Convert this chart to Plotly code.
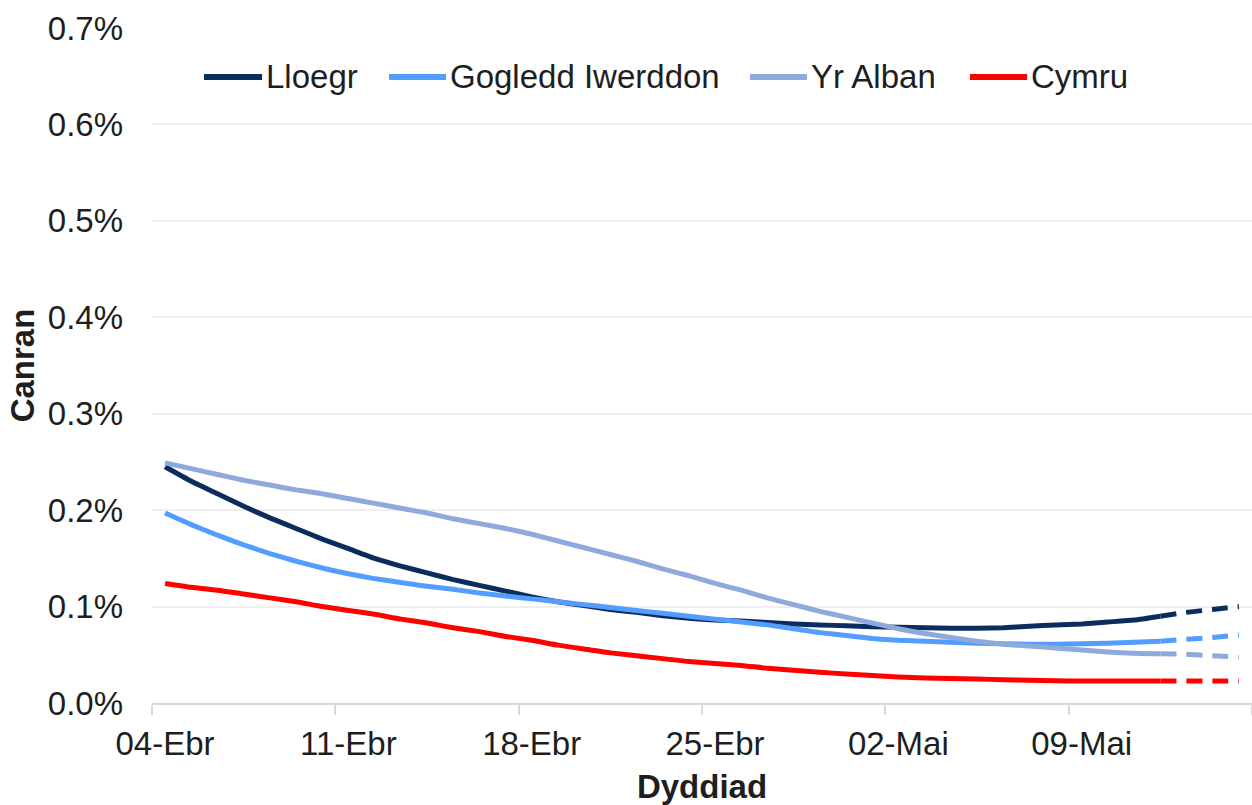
import pandas as pd
import plotly.graph_objects as go

# ---- data (daily, 04 Apr 2021 .. 15 May 2021), values in percent ----
start_date = "2021-04-04"
n_days = 42
solid_last = 38  # last index drawn solid; the rest is dashed

lloegr = [0.245, 0.230, 0.217, 0.204, 0.192, 0.181, 0.170, 0.160, 0.150, 0.142,
          0.135, 0.128, 0.122, 0.116, 0.110, 0.105, 0.101, 0.097, 0.094, 0.0905,
          0.088, 0.086, 0.085, 0.0835, 0.082, 0.081, 0.080, 0.079, 0.0785, 0.078,
          0.0775, 0.0775, 0.078, 0.0795, 0.081, 0.082, 0.084, 0.086, 0.090, 0.094,
          0.097, 0.100]
gogledd_iwerddon = [0.197, 0.185, 0.174, 0.164, 0.155, 0.147, 0.140, 0.134, 0.129, 0.125,
                    0.121, 0.118, 0.114, 0.111, 0.108, 0.105, 0.102, 0.099, 0.096, 0.093,
                    0.090, 0.087, 0.084, 0.081, 0.077, 0.073, 0.070, 0.067, 0.065, 0.064,
                    0.063, 0.062, 0.0615, 0.061, 0.061, 0.0615, 0.062, 0.063, 0.064, 0.066,
                    0.068, 0.0705]
yr_alban = [0.249, 0.243, 0.237, 0.231, 0.226, 0.221, 0.217, 0.212, 0.207, 0.202,
            0.197, 0.191, 0.186, 0.181, 0.175, 0.168, 0.161, 0.154, 0.147, 0.139,
            0.132, 0.124, 0.117, 0.109, 0.102, 0.095, 0.089, 0.083, 0.077, 0.072,
            0.068, 0.064, 0.061, 0.059, 0.057, 0.055, 0.053, 0.0515, 0.051, 0.0505,
            0.049, 0.0475]
cymru = [0.124, 0.120, 0.117, 0.113, 0.109, 0.105, 0.100, 0.096, 0.092, 0.087,
         0.083, 0.078, 0.074, 0.069, 0.065, 0.060, 0.056, 0.052, 0.049, 0.046,
         0.043, 0.041, 0.039, 0.036, 0.034, 0.032, 0.030, 0.0285, 0.027, 0.026,
         0.0255, 0.025, 0.024, 0.0235, 0.023, 0.0228, 0.0228, 0.0228, 0.0228, 0.0228,
         0.0228, 0.0228]

series_names = ["Lloegr", "Gogledd Iwerddon", "Yr Alban", "Cymru"]
series_colors = ["#0B2D5E", "#529DFF", "#8EA9DB", "#FF0000"]

tick_dates = ["2021-04-04", "2021-04-11", "2021-04-18", "2021-04-25",
              "2021-05-02", "2021-05-09", "2021-05-16"]
tick_labels = ["04-Ebr", "11-Ebr", "18-Ebr", "25-Ebr", "02-Mai", "09-Mai", ""]
y_ticks = [0.0, 0.1, 0.2, 0.3, 0.4, 0.5, 0.6, 0.7]
y_tick_labels = ["0.0%", "0.1%", "0.2%", "0.3%", "0.4%", "0.5%", "0.6%", "0.7%"]

# each daily point sits in the middle of its day
dates = pd.date_range(start_date, periods=n_days, freq="D") + pd.Timedelta(hours=12)

W, H = 1252, 805
ML, MR, MT, MB = 152, 0, 28, 102
FONT = "Liberation Sans, Arial, sans-serif"
FS = 33
TXT = "#1e1e1e"

fig = go.Figure()
for name, color, vals in zip(series_names, series_colors,
                             [lloegr, gogledd_iwerddon, yr_alban, cymru]):
    fig.add_trace(go.Scatter(
        x=dates[:solid_last + 1], y=vals[:solid_last + 1], mode="lines", name=name,
        line=dict(color=color, width=5, shape="spline", smoothing=0.5),
        hoverinfo="skip", showlegend=False))
    fig.add_trace(go.Scatter(
        x=dates[solid_last:], y=vals[solid_last:], mode="lines", name=name,
        line=dict(color=color, width=5, dash="16px,10px", shape="spline", smoothing=0.5),
        hoverinfo="skip", showlegend=False))

# ---- legend drawn as line samples + labels (pixel layout converted to paper coords) ----
def px_x(px):
    return (px - ML) / (W - ML - MR)

def px_y(py):
    return (H - MB - py) / (H - MT - MB)

legend_sample_px = [(204, 262), (389, 446), (750, 807), (970, 1027)]
legend_y_px = 77
shapes, annotations = [], []
for name, color, (x0, x1) in zip(series_names, series_colors, legend_sample_px):
    shapes.append(dict(type="line", xref="paper", yref="paper",
                       x0=px_x(x0), x1=px_x(x1), y0=px_y(legend_y_px), y1=px_y(legend_y_px),
                       line=dict(color=color, width=6)))
    annotations.append(dict(xref="paper", yref="paper", x=px_x(x1 + 2), y=px_y(legend_y_px),
                            xanchor="left", yanchor="middle", showarrow=False, text=name,
                            font=dict(family=FONT, size=FS, color=TXT)))

fig.update_layout(
    width=W, height=H,
    margin=dict(l=ML, r=MR, t=MT, b=MB),
    paper_bgcolor="white", plot_bgcolor="white",
    font=dict(family=FONT, size=FS, color=TXT),
    showlegend=False,
    shapes=shapes, annotations=annotations,
    xaxis=dict(
        type="date",
        range=[tick_dates[0], tick_dates[-1]],
        tickmode="array", tickvals=tick_dates, ticktext=tick_labels,
        ticks="outside", ticklen=10, tickwidth=2, tickcolor="#D9D9D9",
        ticklabelshift=13, ticklabelstandoff=0,
        showline=True, linecolor="#D9D9D9", linewidth=2,
        showgrid=False, zeroline=False,
        tickfont=dict(size=FS, color=TXT),
        title=dict(text="<b>Dyddiad</b>", font=dict(size=FS, color=TXT), standoff=17),
    ),
    yaxis=dict(
        range=[0, 0.7],
        tickmode="array", tickvals=y_ticks, ticktext=y_tick_labels,
        ticks="", ticklabelstandoff=28,
        showgrid=True, gridcolor="#EFEFEF", gridwidth=1.5,
        showline=False, zeroline=False,
        tickfont=dict(size=FS, color=TXT),
        title=dict(text="<b>Canran</b>", font=dict(size=FS, color=TXT), standoff=3),
    ),
)

fig.write_html("out.html", config={"displayModeBar": False},
               post_script="document.body.style.margin='0';document.body.style.overflow='hidden';")
